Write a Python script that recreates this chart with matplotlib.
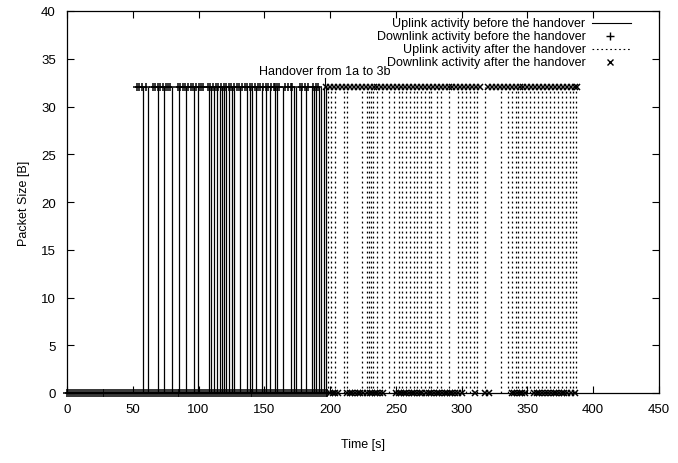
import matplotlib

matplotlib.use("Agg")
import matplotlib.pyplot as plt
from matplotlib.lines import Line2D

plt.rcParams["font.family"] = ["Liberation Sans", "DejaVu Sans"]
plt.rcParams["font.size"] = 9

PACKET = 32  # packet size of every event [B]

# uplink packets (vertical impulses) before / after the handover [s]
uplink_before = [58.1, 61.9, 69.1, 73.9, 79.7, 85.5, 90.6, 96.7, 99.2, 107.6,
                 109.4, 111.4, 114.0, 116.0, 117.8, 119.0, 121.1, 122.8, 125.4,
                 126.7, 131.2, 136.9, 138.8, 140.7, 143.9, 148.3, 151.6, 154.6,
                 157.9, 159.7, 164.3, 170.6, 172.4, 174.4, 177.5, 181.3, 186.4,
                 187.6, 189.6, 191.4, 193.2, 195.2, 196.5]
uplink_after = [198.3, 200.3, 203.4, 210.4, 212.5, 224.4, 228.2, 229.4, 230.8,
                232.8, 235.9, 239.7, 244.7, 248.5, 252.3, 255, 258, 261, 264,
                266, 269, 272, 275, 277, 281, 284, 290, 297, 300, 303, 306, 309,
                312, 318, 330, 335, 338, 341, 343, 346, 349, 352, 355, 358, 361,
                364, 367, 370, 373, 376, 379, 382, 385, 387]

# downlink samples: times with a 32 B packet and times with nothing (0 B)
downlink_before_hit = [53, 55, 57, 60, 65, 67, 69, 71, 73, 75, 77, 78, 84, 86,
                       88, 90, 92, 94, 96, 98, 100, 102, 103, 107, 109, 111,
                       113, 115, 117, 119, 121, 123, 125, 127, 129, 131, 133,
                       135, 137, 139, 141, 143, 145, 147, 149, 151, 153, 155,
                       157, 158, 160, 161, 166, 168, 170, 171, 177, 179, 181,
                       183, 187, 189, 191]
downlink_before_idle = [0, 1.5, 3, 4.5, 6, 7.5, 9, 10.5, 12, 13.5, 15, 16.5, 18,
                        19.5, 21, 22.5, 24, 25.5, 27, 28.5, 30, 31.5, 33, 34.5,
                        36, 37.5, 39, 40.5, 42, 43.5, 45, 46.5, 48, 49.5, 51,
                        52.5, 54, 55.5, 57, 58.5, 60, 61.5, 63, 64.5, 66, 67.5,
                        69, 70.5, 72, 73.5, 75, 76.5, 78, 79.5, 81, 82.5, 84,
                        85.5, 87, 88.5, 90, 91.5, 93, 94.5, 96, 97.5, 99, 100.5,
                        102, 103.5, 105, 106.5, 108, 109.5, 111, 112.5, 114,
                        115.5, 117, 118.5, 120, 121.5, 123, 124.5, 126, 127.5,
                        129, 130.5, 132, 133.5, 135, 136.5, 138, 139.5, 141,
                        142.5, 144, 145.5, 147, 148.5, 150, 151.5, 153, 154.5,
                        156, 157.5, 159, 160.5, 162, 163.5, 165, 166.5, 168,
                        169.5, 171, 172.5, 174, 175.5, 177, 178.5, 180, 181.5,
                        183, 184.5, 186, 187.5, 189, 190.5, 192, 193.5, 195,
                        196.5, 198]
downlink_after_hit = [197, 200, 203, 206, 209, 212, 215, 218, 221, 224, 227,
                      230, 233, 236, 239, 242, 245, 248, 251, 254, 257, 260,
                      263, 266, 269, 272, 275, 278, 281, 284, 287, 290, 293,
                      296, 299, 302, 305, 308, 311, 314, 320, 323, 326, 329,
                      332, 335, 338, 341, 344, 347, 350, 353, 356, 359, 362,
                      365, 368, 371, 374, 377, 380, 383, 386, 388]
downlink_after_idle = [200, 202, 204, 206, 213, 215, 217, 219, 221, 223, 225,
                       228, 230, 232, 234, 236, 238, 240, 250, 252, 254, 256,
                       258, 260, 262, 264, 266, 268, 270, 273, 275, 277, 279,
                       281, 283, 285, 287, 289, 291, 293, 295, 297, 300, 310,
                       318, 321, 338, 340, 342, 344, 346, 348, 355, 357, 359,
                       361, 363, 366, 368, 370, 372, 374, 376, 378, 380, 383,
                       386]

handover_time = 196
handover_label = "Handover from 1a to 3b"

x_ticks = list(range(0, 451, 50))
y_ticks = list(range(0, 41, 5))

fig = plt.figure(figsize=(6.78, 4.64), dpi=100)
ax = fig.add_axes([67 / 678, 70 / 464, 592 / 678, 382 / 464])

dotted = (0, (1.5, 2.5))
ax.vlines(uplink_before, 0, PACKET, colors="black", linewidth=0.9)
ax.vlines(uplink_after, 0, PACKET, colors="black", linewidth=0.9, linestyles=dotted)

plus = dict(linestyle="none", color="black", marker="+", markersize=6, markeredgewidth=1.1, clip_on=False)
cross = dict(linestyle="none", color="black", marker="x", markersize=4.5, markeredgewidth=1.1, clip_on=False)
ax.plot(downlink_before_hit, [PACKET] * len(downlink_before_hit), **plus)
ax.plot(downlink_before_idle, [0] * len(downlink_before_idle), **plus)
ax.plot(downlink_after_hit, [PACKET] * len(downlink_after_hit), **cross)
ax.plot(downlink_after_idle, [0] * len(downlink_after_idle), **cross)

# handover annotation
ax.plot([handover_time, handover_time], [PACKET, 33.0], color="black", linewidth=0.8)
ax.text(handover_time, 33.7, handover_label, ha="center", va="center", fontsize=9)

ax.set_xlim(0, 450)
ax.set_ylim(0, 40)
ax.set_xticks(x_ticks)
ax.set_yticks(y_ticks)
ax.tick_params(direction="in", length=5, width=0.8, top=True, right=True, labelsize=9.5)
ax.tick_params(axis="x", pad=7)
ax.tick_params(axis="y", pad=8)
for sp in ax.spines.values():
    sp.set_linewidth(0.9)
ax.set_xlabel("Time [s]", fontsize=9, labelpad=17)
ax.set_ylabel("Packet Size [B]", fontsize=9, labelpad=8)

# gnuplot-style key: right-aligned text followed by the sample
entries = [
    ("Uplink activity before the handover", dict(linestyle="-")),
    ("Downlink activity before the handover", dict(linestyle="none", marker="+", markersize=6)),
    ("Uplink activity after the handover", dict(linestyle=dotted)),
    ("Downlink activity after the handover", dict(linestyle="none", marker="x", markersize=4.5)),
]
tr = ax.transAxes
for i, (label, style) in enumerate(entries):
    y = 1 - (12 + 13 * i) / 382
    ax.text(0.876, y, label, transform=tr, ha="right", va="center", fontsize=9)
    if style.get("marker"):
        ax.add_line(Line2D([0.918], [y], transform=tr, color="black", markeredgewidth=1, **style))
    else:
        ax.add_line(Line2D([0.887, 0.952], [y, y], transform=tr, color="black", linewidth=0.8, **style))

fig.savefig("out.png", dpi=100)
